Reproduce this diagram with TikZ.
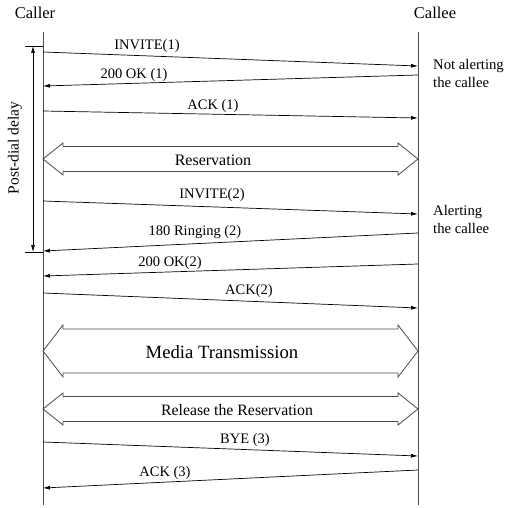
\documentclass[tikz,border=0pt]{standalone}
\usepackage{fontspec}
\setmainfont{Liberation Serif}
\usetikzlibrary{arrows.meta}
\begin{document}
\begin{tikzpicture}[x=1pt,y=-1pt,
  life/.style={draw=black!70, line width=0.9pt},
  msg/.style={draw=black, line width=0.7pt, -{Latex[length=7pt,width=4pt]}},
  fat/.style={draw=black!70, line width=0.8pt},
  lbl/.style={font=\fontsize{14.5}{16}\selectfont, inner sep=0pt},
  head/.style={font=\fontsize{16.5}{18}\selectfont, inner sep=0pt},
  side/.style={font=\fontsize{14.7}{18}\selectfont, inner sep=0pt, align=left, anchor=west}]
\useasboundingbox (0,0) rectangle (511,508);
% heads
\node[head] (caller) at (35,13) {Caller};
\node[head] (callee) at (435,13) {Callee};
\coordinate (c0) at (43,32); \coordinate (c1) at (43,505);
\coordinate (e0) at (418,32); \coordinate (e1) at (418,505);
\draw[life] (c0) -- (c1);
\draw[life] (e0) -- (e1);
% post-dial delay
\coordinate (t0) at (25,46); \coordinate (t0e) at (43,46);
\coordinate (t1) at (25,252); \coordinate (t1e) at (43,252);
\draw[line width=0.7pt] (t0) -- (t0e);
\draw[line width=0.7pt] (t1) -- (t1e);
\coordinate (pd0) at (33,46); \coordinate (pd1) at (33,252);
\draw[line width=0.7pt, {Latex[length=7pt,width=4pt]}-{Latex[length=7pt,width=4pt]}] (pd0) -- (pd1);
\node[lbl, rotate=90, font=\fontsize{15.5}{17}\selectfont] (pdl) at (15,148) {Post-dial delay};
% messages
\coordinate (m1a) at (43,52); \coordinate (m1b) at (418,66);
\draw[msg] (m1a) -- (m1b);
\node[lbl] (l1) at (147,46) {INVITE(1)};
\coordinate (m2a) at (418,75); \coordinate (m2b) at (43,86);
\draw[msg] (m2a) -- (m2b);
\node[lbl] (l2) at (134,75) {200 OK (1)};
\coordinate (m3a) at (43,111); \coordinate (m3b) at (418,118);
\draw[msg] (m3a) -- (m3b);
\node[lbl] (l3) at (213,106) {ACK (1)};
% Reservation
\draw[fat] (43,159) -- (63,143) -- (63,146.5) -- (398,146.5) -- (398,143) -- (418,159)
  -- (398,175) -- (398,171.5) -- (63,171.5) -- (63,175) -- cycle;
\node[lbl, font=\fontsize{16}{18}\selectfont] (res) at (213,160) {Reservation};
\coordinate (m4a) at (43,201); \coordinate (m4b) at (418,214);
\draw[msg] (m4a) -- (m4b);
\node[lbl] (l4) at (212,195) {INVITE(2)};
\coordinate (m5a) at (418,233); \coordinate (m5b) at (43,251);
\draw[msg] (m5a) -- (m5b);
\node[lbl] (l5) at (195,232) {180 Ringing (2)};
\coordinate (m6a) at (418,264); \coordinate (m6b) at (43,276);
\draw[msg] (m6a) -- (m6b);
\node[lbl] (l6) at (170,263) {200 OK(2)};
\coordinate (m7a) at (43,293); \coordinate (m7b) at (418,308);
\draw[msg] (m7a) -- (m7b);
\node[lbl] (l7) at (249,291) {ACK(2)};
% Media
\draw[fat] (43,351) -- (63,325) -- (63,329) -- (398,329) -- (398,325) -- (418,351)
  -- (398,377) -- (398,373) -- (63,373) -- (63,377) -- cycle;
\node[lbl, font=\fontsize{18.7}{20}\selectfont] (media) at (222,352) {Media Transmission};
% Release
\draw[fat] (43,409) -- (63,393) -- (63,396.5) -- (398,396.5) -- (398,393) -- (418,409)
  -- (398,425) -- (398,421.5) -- (63,421.5) -- (63,425) -- cycle;
\node[lbl, font=\fontsize{15.8}{18}\selectfont] (rel) at (237,410) {Release the Reservation};
\coordinate (m8a) at (43,442); \coordinate (m8b) at (418,456);
\draw[msg] (m8a) -- (m8b);
\node[lbl] (l8) at (245,440) {BYE (3)};
\coordinate (m9a) at (418,470); \coordinate (m9b) at (43,488);
\draw[msg] (m9a) -- (m9b);
\node[lbl] (l9) at (165,473) {ACK (3)};
% side notes
\node[side] (s1) at (433,73) {Not alerting\\the callee};
\node[side] (s2) at (433,219) {Alerting\\the callee};
\end{tikzpicture}
\end{document}
